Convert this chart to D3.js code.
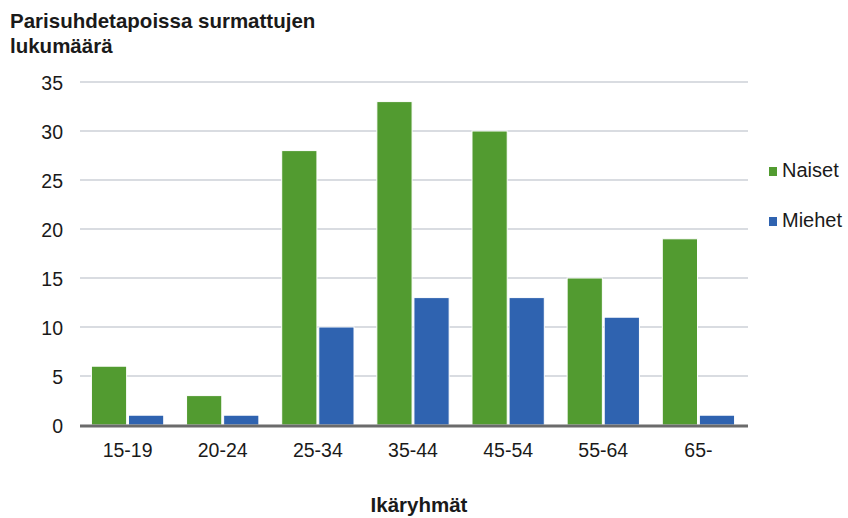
<!DOCTYPE html>
<html>
<head>
<meta charset="utf-8">
<script src="https://cdn.jsdelivr.net/npm/d3@7"></script>
<style>
  body { margin: 0; background: #fff; }
  text { font-family: "Liberation Sans", Arial, sans-serif; fill: #1a1a1a; }
</style>
</head>
<body>
<svg id="chart" width="848" height="518"></svg>
<script>
const groups = ["15-19", "20-24", "25-34", "35-44", "45-54", "55-64", "65-"];
const naiset = [6, 3, 28, 33, 30, 15, 19];
const miehet = [1, 1, 10, 13, 13, 11, 1];
const yTicks = [0, 5, 10, 15, 20, 25, 30, 35];
const seriesNames = ["Naiset", "Miehet"];
const colors = ["#529b30", "#2f63b0"];

let chart = d3.select("#chart");

let xScale = d3.scaleBand()
    .domain(groups)
    .range([80, 746])
    .paddingInner(0.24)
    .paddingOuter(0.12);

let inner = d3.scaleBand()
    .domain(seriesNames)
    .range([0, xScale.bandwidth()])
    .paddingInner(0.05);

let yScale = d3.scaleLinear()
    .domain([0, 35])
    .range([425, 82]);

// gridlines
chart.append("g")
    .selectAll("line")
    .data(yTicks.filter(d => d > 0)).enter()
    .append("line")
        .attr("x1", 80)
        .attr("x2", 748)
        .attr("y1", d => yScale(d))
        .attr("y2", d => yScale(d))
        .attr("stroke", "#d9dce1")
        .attr("stroke-width", 2);

// y tick labels
chart.append("g")
    .selectAll("text")
    .data(yTicks).enter()
    .append("text")
        .attr("x", 63)
        .attr("y", d => yScale(d) + 8)
        .style("text-anchor", "end")
        .style("font-size", "19.5px")
        .text(d => d);

// bars
let rows = groups.map((g, i) => ({g: g, vals: [naiset[i], miehet[i]]}));
let gGroups = chart.append("g")
    .selectAll("g")
    .data(rows).enter()
    .append("g")
        .attr("transform", d => "translate(" + xScale(d.g) + ",0)");

gGroups.selectAll("rect")
    .data(d => d.vals.map((v, j) => ({name: seriesNames[j], v: v, c: colors[j]}))).enter()
    .append("rect")
        .attr("x", d => inner(d.name))
        .attr("width", inner.bandwidth())
        .attr("y", d => yScale(d.v))
        .attr("height", d => yScale(0) - yScale(d.v))
        .attr("fill", d => d.c)
        .attr("stroke", "#ffffff")
        .attr("stroke-width", 1);

// x axis line
chart.append("line")
    .attr("x1", 80)
    .attr("x2", 748)
    .attr("y1", yScale(0) + 1)
    .attr("y2", yScale(0) + 1)
    .attr("stroke", "#6b6b6b")
    .attr("stroke-width", 3);

// x tick labels
chart.append("g")
    .selectAll("text")
    .data(groups).enter()
    .append("text")
        .attr("x", d => xScale(d) + xScale.bandwidth() / 2)
        .attr("y", 457)
        .style("text-anchor", "middle")
        .style("font-size", "19.5px")
        .text(d => d);

// titles
chart.append("text")
    .attr("x", 10)
    .attr("y", 28)
    .style("font-size", "20.5px")
    .style("font-weight", "bold")
    .text("Parisuhdetapoissa surmattujen");
chart.append("text")
    .attr("x", 10)
    .attr("y", 53)
    .style("font-size", "20.5px")
    .style("font-weight", "bold")
    .text("lukumäärä");

chart.append("text")
    .attr("x", 419)
    .attr("y", 512)
    .style("text-anchor", "middle")
    .style("font-size", "20.5px")
    .style("font-weight", "bold")
    .text("Ikäryhmät");

// legend
let legend = chart.append("g")
    .selectAll("g")
    .data(seriesNames).enter()
    .append("g")
        .attr("transform", (d, i) => "translate(769," + (177 + i * 50) + ")");
legend.append("rect")
    .attr("x", 0)
    .attr("y", -10)
    .attr("width", 8)
    .attr("height", 9)
    .attr("fill", (d, i) => colors[i]);
legend.append("text")
    .attr("x", 13)
    .attr("y", 0)
    .style("font-size", "20px")
    .text(d => d);
</script>
</body>
</html>
